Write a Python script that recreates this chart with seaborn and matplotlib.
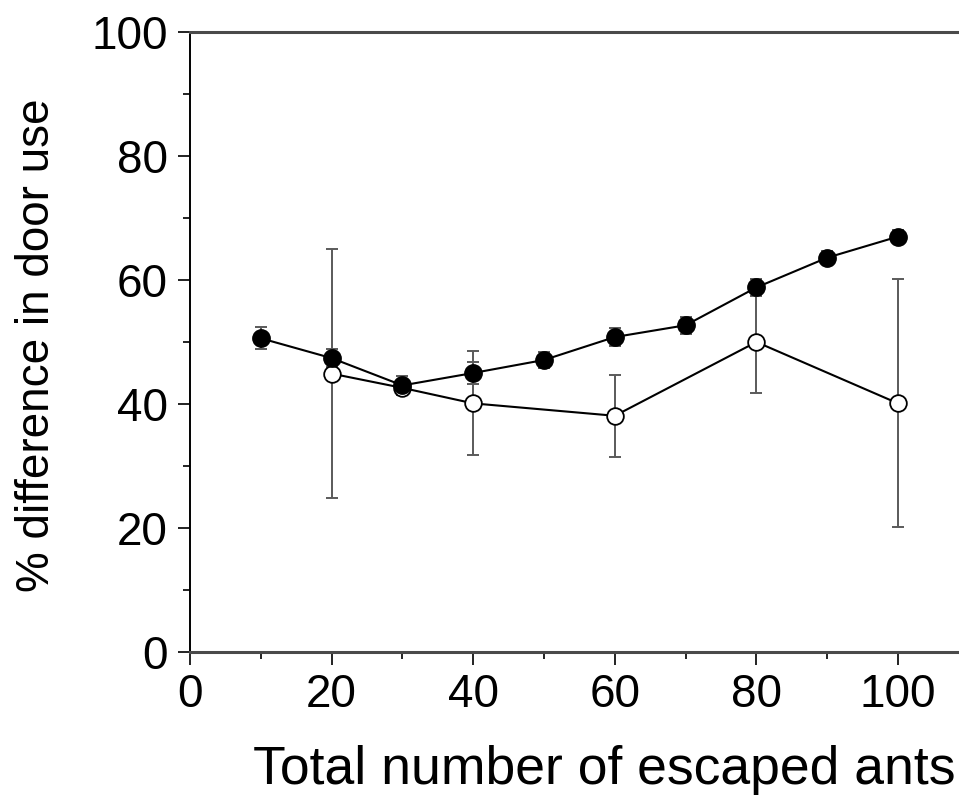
import matplotlib
matplotlib.use("Agg")
import matplotlib.pyplot as plt
import seaborn as sns
import pandas as pd
from matplotlib.ticker import MultipleLocator

# Data
x_filled = [10, 20, 30, 40, 50, 60, 70, 80, 90, 100]
y_filled = [50.6, 47.4, 43.0, 45.0, 47.1, 50.8, 52.7, 58.8, 63.6, 67.0]
e_filled = [1.8, 1.5, 1.5, 1.7, 1.3, 1.5, 1.4, 1.3, 1.0, 1.0]

x_open = [20, 30, 40, 60, 80, 100]
y_open = [44.9, 42.6, 40.1, 38.1, 50.0, 40.1]
e_open = [20.1, 0.0, 8.4, 6.6, 8.3, 20.0]

x_label = "Total number of escaped ants"
y_label = "% difference in door use"

sns.set_theme(style="white")
plt.rcParams['font.family'] = ['Liberation Sans', 'DejaVu Sans']

fig = plt.figure(figsize=(9.59, 7.96), dpi=100)
W, H = 959, 796
ax = fig.add_axes([190 / W, (H - 652) / H, 778.8 / W, 620 / H])

df_f = pd.DataFrame({"x": x_filled, "y": y_filled})
df_o = pd.DataFrame({"x": x_open, "y": y_open})

err_col = "#5a5a5a"
ax.errorbar(x_open, y_open, yerr=e_open, fmt="none", ecolor=err_col,
            elinewidth=1.4, capsize=4.6, capthick=1.4, zorder=1)
ax.errorbar(x_filled, y_filled, yerr=e_filled, fmt="none", ecolor=err_col,
            elinewidth=1.4, capsize=4.6, capthick=1.4, zorder=1)

sns.lineplot(data=df_o, x="x", y="y", ax=ax, color="black", lw=1.5,
             marker="o", markersize=12, markerfacecolor="white",
             markeredgecolor="black", markeredgewidth=1.3, zorder=3)
sns.lineplot(data=df_f, x="x", y="y", ax=ax, color="black", lw=1.5,
             marker="o", markersize=12.5, markerfacecolor="black",
             markeredgecolor="black", markeredgewidth=1.0, zorder=4)

ax.set_xlim(0, 110)
ax.set_ylim(0, 100)
ax.xaxis.set_major_locator(MultipleLocator(20))
ax.xaxis.set_minor_locator(MultipleLocator(10))
ax.yaxis.set_major_locator(MultipleLocator(20))
ax.yaxis.set_minor_locator(MultipleLocator(10))

ax.tick_params(axis="both", which="major", direction="out", length=9,
               width=1.4, color="#222222", labelsize=33, pad=6,
               bottom=True, left=True, labelcolor="black")
ax.tick_params(axis="y", which="major", pad=7)
ax.tick_params(axis="both", which="minor", direction="out", length=5,
               width=1.4, color="#222222", bottom=True, left=True)

for s in ["top", "bottom"]:
    ax.spines[s].set_color("#4a4a4a")
    ax.spines[s].set_linewidth(2.2)
ax.spines["left"].set_color("black")
ax.spines["left"].set_linewidth(1.4)
ax.spines["right"].set_visible(False)

ax.set_xlabel(x_label, fontsize=38.5, color="black", va="center")
ax.set_ylabel(y_label, fontsize=33, color="black", va="center")
# label centres in axes fraction
ax.xaxis.set_label_coords((604 - 190) / 778.8, -(770 - 652) / 620)
ax.yaxis.set_label_coords(-(190 - 37) / 778.8, (652 - 345) / 620)
ax.grid(False)

fig.savefig("out.png", dpi=100)
